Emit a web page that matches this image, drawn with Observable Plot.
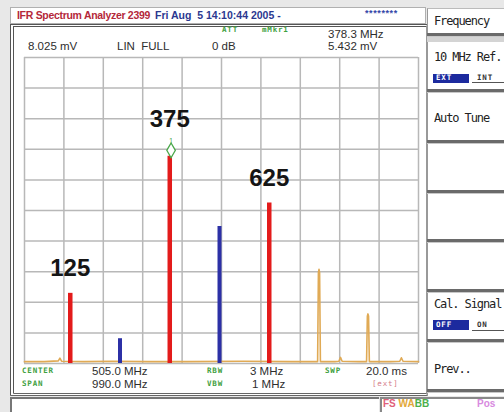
<!DOCTYPE html>
<html><head><meta charset="utf-8">
<script src="https://cdn.jsdelivr.net/npm/d3@7"></script>
<script src="https://cdn.jsdelivr.net/npm/@observablehq/plot@0.6"></script>
<style>
html,body{margin:0;padding:0;}
body{width:504px;height:412px;background:#e8e8e8;position:relative;overflow:hidden;font-family:"Liberation Sans",Arial,sans-serif;}
.a{position:absolute;white-space:pre;line-height:14px;height:14px;}
.box{position:absolute;box-sizing:border-box;}
.g{color:#3ea03e;font-family:"DejaVu Sans Mono",monospace;font-weight:bold;font-size:7.5px;letter-spacing:0.8px;}
.v{color:#2e2e2e;font-size:11.5px;}
.m{font-family:"DejaVu Sans Mono",monospace;font-size:12px;letter-spacing:-1.1px;color:#222;}
.sep{position:absolute;left:427px;width:77px;height:3px;background:#6a6a6a;border-bottom:1px solid #c8c8c8;}
</style></head><body>
<script>
// ---- data ----
const refLevelMv = 8.025;          // top of screen, linear mV
const centerMhz = 505.0;
const spanMhz = 990.0;
const gridDivisions = 10;

const signalFreq = [125, 375, 625];          // red tones (labelled)
const signalAmp  = [1.84, 5.432, 4.21];      // mV
const otherFreq  = [250, 500];               // blue tones
const otherAmp   = [0.65, 3.59];             // mV
const traceFreq  = [10, 60, 95, 99, 103, 160, 230, 320, 420, 560, 680, 740, 746.5, 748.5, 750, 751.5, 753.5, 790, 800, 804, 808, 850, 869.5, 871.5, 873, 874.5, 876.5, 930, 953, 957, 961, 1000];
const traceAmp   = [0.05, 0.05, 0.07, 0.14, 0.06, 0.05, 0.06, 0.05, 0.05, 0.06, 0.05, 0.05, 0.05, 2.38, 2.47, 2.38, 0.05, 0.05, 0.06, 0.16, 0.06, 0.05, 0.05, 1.24, 1.30, 1.24, 0.05, 0.05, 0.06, 0.15, 0.06, 0.05];
const markerFreq = 378.3;
const markerAmp  = 5.432;

const startMhz = centerMhz - spanMhz / 2;
const stopMhz = centerMhz + spanMhz / 2;
const xTicks = d3.range(gridDivisions + 1).map(i => startMhz + i * spanMhz / gridDivisions);
const yTicks = d3.range(gridDivisions + 1).map(i => i * refLevelMv / gridDivisions);

const signals = signalFreq.map((f, i) => ({freq: f, amp: signalAmp[i]}));
const others = otherFreq.map((f, i) => ({freq: f, amp: otherAmp[i]}));
const trace = traceFreq.map((f, i) => ({freq: f, amp: traceAmp[i]}));
const marker = [{freq: markerFreq, amp: markerAmp}];
// the labelled tone that carries the marker gets its label lifted above the marker
const nearMarker = d => Math.abs(d.freq - markerFreq) < 10;

// ---- chrome backgrounds ----
function box(l, t, w, h, style) {
  const d = document.createElement("div");
  d.className = "box";
  Object.assign(d.style, {left: l + "px", top: t + "px", width: w + "px", height: h + "px"}, style || {});
  document.body.appendChild(d);
  return d;
}
function txt(l, cy, s, cls, style) {
  const d = document.createElement("div");
  d.className = "a " + (cls || "");
  d.textContent = s;
  Object.assign(d.style, {left: l + "px", top: (cy - 7) + "px"}, style || {});
  document.body.appendChild(d);
  return d;
}
// title strip
box(10, 7, 416, 17, {background: "#fff", border: "1px solid #b0b0b0"});
// main panel
box(10, 24, 417, 372, {background: "#fff", borderTop: "3px double #555", borderLeft: "4px double #555", borderRight: "1px solid #999", borderBottom: "3px double #666"});
// right menu
box(427, 8, 77, 388, {background: "#fff", borderLeft: "1px solid #999", borderTop: "1px solid #bbb"});
box(427, 36, 77, 6, {background: "#d4d4d4"});
// status strip
box(10, 397, 369, 15, {background: "#fff", borderTop: "2px solid #777", borderLeft: "2px solid #777"});
box(380, 397, 124, 15, {background: "#fff", borderTop: "2px solid #888", borderLeft: "2px solid #888"});

// ---- the chart ----
const labelStyle = {x: "freq", y: "amp", text: d => String(d.freq), fontSize: 24, fontWeight: "bold", fill: "#151515", fontFamily: "Liberation Sans, Arial, sans-serif"};
const chart = Plot.plot({
  width: 504,
  height: 412,
  marginLeft: 24,
  marginRight: 86,
  marginTop: 57,
  marginBottom: 49,
  x: {domain: [startMhz, stopMhz], axis: null},
  y: {domain: [0, refLevelMv], axis: null},
  style: {background: "transparent", overflow: "visible"},
  marks: [
    Plot.gridX(xTicks, {stroke: "#b8b8b8", strokeOpacity: 1, strokeWidth: 1.5}),
    Plot.gridY(yTicks, {stroke: "#b8b8b8", strokeOpacity: 1, strokeWidth: 1.5}),
    Plot.line(trace, {x: "freq", y: "amp", stroke: "#e0aa55", strokeWidth: 1.6}),
    Plot.ruleX(others, {x: "freq", y1: 0, y2: "amp", stroke: "#2c30a6", strokeWidth: 4}),
    Plot.ruleX(signals, {x: "freq", y1: 0, y2: "amp", stroke: "#e31b1b", strokeWidth: 4.5}),
    Plot.dot(marker, {x: "freq", y: "amp", symbol: "diamond", r: 4.5, stroke: "#4aa84a", strokeWidth: 1.3, fill: "#fff", dy: -6}),
    Plot.text(marker, {x: "freq", y: "amp", text: () => "1", dy: -16, fontSize: 7, fill: "#4aa84a"}),
    Plot.text(signals, {...labelStyle, filter: d => !nearMarker(d), dy: -25}),
    Plot.text(signals, {...labelStyle, filter: nearMarker, dy: -37})
  ]
});
chart.style.position = "absolute";
chart.style.left = "0px";
chart.style.top = "0px";
document.body.appendChild(chart);

// ---- texts ----
txt(17, 15, "IFR Spectrum Analyzer 2399", "", {color: "#b4283a", fontWeight: "bold", fontSize: "10.5px", letterSpacing: "-0.3px"});
txt(155, 15, "Fri Aug  5 14:10:44 2005 -", "", {color: "#2b3890", fontWeight: "bold", fontSize: "10.5px"});
txt(365, 13, "********", "", {color: "#3446a8", fontWeight: "bold", fontSize: "9px", letterSpacing: "0.6px"});

txt(28, 46, "8.025 mV", "v");
txt(117, 46, "LIN  FULL", "v");
txt(222, 30, "ATT", "g");
txt(212, 46, "0 dB", "v");
txt(262, 30, "mMkr1", "g");
txt(328, 34, "378.3 MHz", "v");
txt(328, 46, "5.432 mV", "v");

txt(22, 371, "CENTER", "g");
txt(92, 371, "505.0 MHz", "v");
txt(22, 384, "SPAN", "g");
txt(92, 384, "990.0 MHz", "v");
txt(207, 371, "RBW", "g");
txt(250, 371, "3 MHz", "v");
txt(207, 384, "VBW", "g");
txt(252, 384, "1 MHz", "v");
txt(325, 371, "SWP", "g");
txt(366, 371, "20.0 ms", "v");
txt(372, 384, "[ext]", "g", {color: "#d47a88", fontWeight: "normal"});

// right menu
[33, 89, 140, 190, 239, 289, 339, 389].forEach(y => {
  const s = document.createElement("div");
  s.className = "sep";
  s.style.top = y + "px";
  document.body.appendChild(s);
});
txt(434, 21, "Frequency", "m");
txt(434, 57, "10 MHz Ref.", "m");
box(433, 74, 36, 9, {background: "#1c2a9e"});
txt(436, 78, "EXT", "g", {color: "#fff", fontWeight: "bold"});
txt(477, 78, "INT", "g", {color: "#333"});
box(472, 82, 32, 1, {background: "#555"});
txt(434, 118, "Auto Tune", "m");
txt(434, 304, "Cal. Signal", "m");
box(433, 320, 36, 10, {background: "#1c2a9e"});
txt(436, 325, "OFF", "g", {color: "#fff"});
txt(477, 325, "ON", "g", {color: "#333"});
box(472, 330, 32, 1, {background: "#555"});
txt(434, 369, "Prev..", "m");

const fs = txt(383, 404, "", "", {fontSize: "10px", fontWeight: "bold"});
fs.innerHTML = '<span style="color:#e0607a">FS</span> <span style="color:#e2a83a">WA</span><span style="color:#4cb04c">BB</span>';
txt(477, 404, "Pos", "", {color: "#d88ae0", fontSize: "10px", fontWeight: "bold"});
</script>
</body></html>
